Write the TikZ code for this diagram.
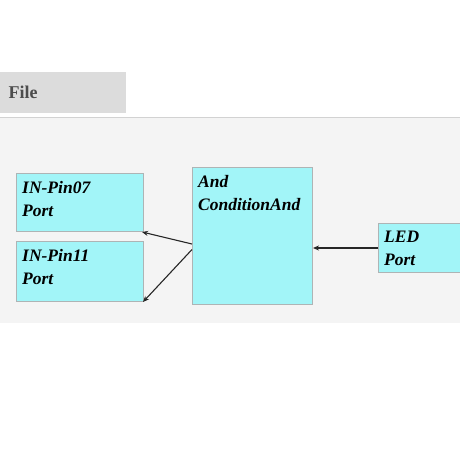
\documentclass[tikz,border=0pt]{standalone}
\usepackage{fontspec}
\setmainfont{Liberation Serif}
\usetikzlibrary{arrows.meta}
\definecolor{tabgray}{HTML}{DCDCDC}
\definecolor{panelgray}{HTML}{F4F4F4}
\definecolor{rulegray}{HTML}{D2D2D2}
\definecolor{blkfill}{HTML}{A2F5F8}
\definecolor{blkline}{HTML}{AEB4B5}
\begin{document}
\begin{tikzpicture}[x=1pt,y=-1pt,
    blk/.style={draw=blkline,fill=blkfill,line width=1pt,anchor=north west,inner sep=0pt},
    blklbl/.style={anchor=north west,align=left,inner xsep=6pt,inner ysep=8pt,
        font=\fontsize{17.5}{23}\selectfont\bfseries\itshape},
    wire/.style={draw=black!85,line width=1.1pt,-{Stealth[length=6pt,width=5pt]}}]
    \useasboundingbox (0,0) rectangle (460,460);
    \clip (0,0) rectangle (460,460);
    % window frame
    \fill[panelgray] (0,118) rectangle (460,323);
    \draw[rulegray,line width=1.6pt] (0,117.3)--(460,117.3);
    \node[fill=tabgray,anchor=north west,minimum width=126pt,minimum height=41pt,inner sep=0pt] (tab) at (0,72) {};
    \node[anchor=west,text=black!70,font=\fontsize{18}{20}\selectfont\bfseries] (tabtxt) at (5,92) {File};
    % blocks
    \node[blk,minimum width=127pt,minimum height=58pt,label={[blklbl]north west:IN-Pin07\\Port}] (pin07) at (16,173) {};
    \node[blk,minimum width=127pt,minimum height=60pt,label={[blklbl]north west:IN-Pin11\\Port}] (pin11) at (16,241) {};
    \node[blk,minimum width=120pt,minimum height=137pt,label={[blklbl]north west:And\\ConditionAnd}] (cand) at (192,167) {};
    \node[blk,minimum width=110pt,minimum height=49pt,label={[blklbl]north west:LED\\Port}] (led) at (378,223) {};
    % connectors
    \coordinate (candout1) at ([yshift=-8pt]cand.west);
    \coordinate (candout2) at ([yshift=-13.5pt]cand.west);
    \coordinate (candin) at (cand.east |- led.west);
    \draw[wire] (candout1)--([xshift=-2pt]pin07.south east);
    \draw[wire] (candout2)--([xshift=-1pt]pin11.south east);
    \draw[wire] (led.west)--(candin);
\end{tikzpicture}
\end{document}
